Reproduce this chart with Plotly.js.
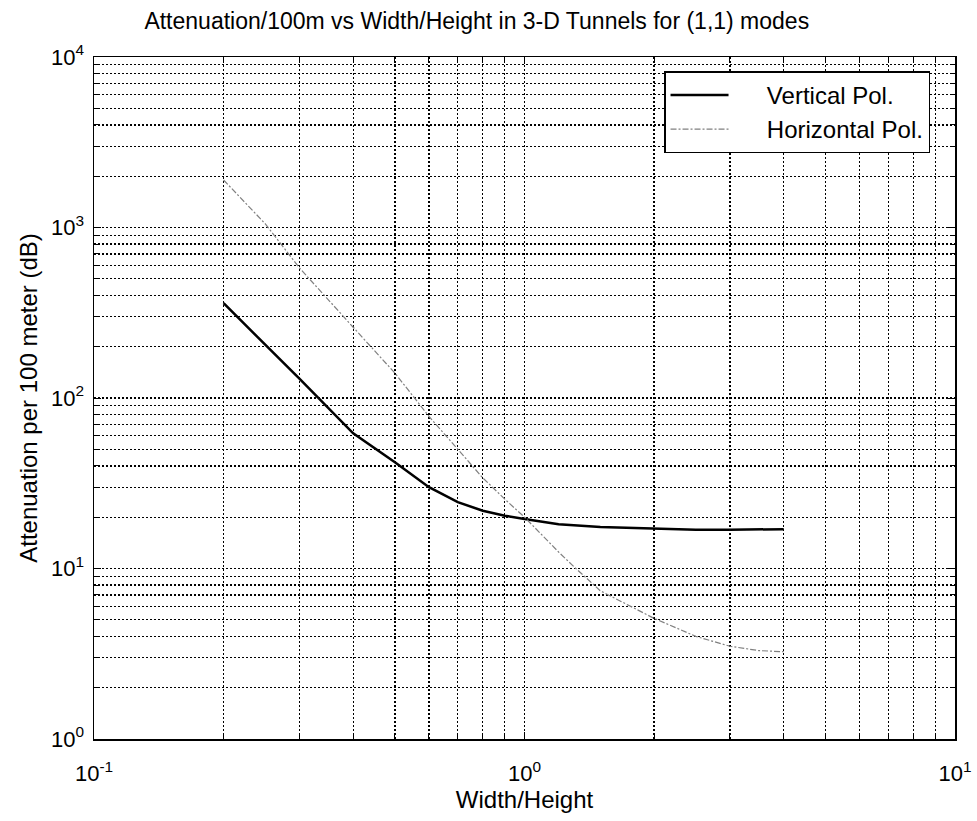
<!DOCTYPE html>
<html>
<head>
<meta charset="utf-8">
<script src="https://cdn.plot.ly/plotly-3.0.1.min.js"></script>
<style>html,body{margin:0;padding:0;background:#fff;}#chart{width:977px;height:821px;}</style>
</head>
<body>
<div id="chart"></div>
<script>
// Width/Height ratios and attenuation (dB per 100 m)
const ratioVertical = [0.2, 0.3, 0.4, 0.5, 0.6, 0.7, 0.8, 0.9, 1.0, 1.2, 1.5, 2.0, 2.5, 3.0, 4.0];
const attVertical   = [360, 130, 62, 42, 30, 24.5, 21.8, 20.4, 19.5, 18.2, 17.5, 17.2, 16.9, 16.9, 17.0];

const ratioHorizontal = [0.2, 0.25, 0.3, 0.35, 0.4, 0.5, 0.6, 0.7, 0.8, 0.9, 1.0, 1.2, 1.3, 1.5, 2.0, 2.5, 3.0, 3.5, 4.0];
const attHorizontal   = [1900, 1050, 580, 380, 260, 140, 78, 50, 34, 25.5, 20, 12.5, 10.3, 7.4, 5.1, 4.0, 3.5, 3.3, 3.25];

const seriesNames = ['Vertical Pol.', 'Horizontal Pol.'];

const xTickVals = [0.1, 1, 10];
const xTickText = ['10<sup>-1</sup>', '10<sup>0</sup>', '10<sup>1</sup>'];
const yTickVals = [1, 10, 100, 1000, 10000];
const yTickText = ['10<sup>0</sup>', '10<sup>1</sup>', '10<sup>2</sup>', '10<sup>3</sup>', '10<sup>4</sup>'];

const titleText = 'Attenuation/100m vs Width/Height in 3-D Tunnels for (1,1) modes';
const xTitle = 'Width/Height';
const yTitle = 'Attenuation per 100 meter (dB)';

function minorVals(lo, hi) {
  const out = [];
  for (let e = lo; e < hi; e++) for (let d = 2; d <= 9; d++) out.push(d * Math.pow(10, e));
  return out;
}

const FONT = '"Liberation Sans", Arial, Helvetica, sans-serif';
const gridDash = '2px,2px';
const PAD = '\u00a0\u00a0\u00a0\u00a0\u00a0';

const traces = [
  {x: ratioVertical, y: attVertical, name: PAD + seriesNames[0], type: 'scatter', mode: 'lines',
   line: {color: '#000', width: 2.5}},
  {x: ratioHorizontal, y: attHorizontal, name: PAD + seriesNames[1], type: 'scatter', mode: 'lines',
   line: {color: '#808080', width: 1.2, dash: '6px,2px,2px,2px'}}
];

const axisCommon = {
  type: 'log', showline: true, linecolor: '#000', linewidth: 1.5, mirror: 'allticks',
  ticks: 'inside', ticklen: 7, tickcolor: '#000', tickwidth: 1,
  showgrid: true, gridcolor: '#000', gridwidth: 1.3, griddash: gridDash, zeroline: false,
  tickmode: 'array', tickfont: {family: FONT, size: 22, color: '#000'}
};

const layout = {
  width: 977, height: 821,
  paper_bgcolor: '#fff', plot_bgcolor: '#fff',
  margin: {l: 94, r: 22, t: 57, b: 82},
  title: {text: titleText, font: {family: FONT, size: 23, color: '#000'},
          x: 0.488, xanchor: 'center', y: 0.974, yanchor: 'middle'},
  xaxis: Object.assign({}, axisCommon, {
    range: [-1, 1], tickvals: xTickVals, ticktext: xTickText, ticklabelstandoff: 14,
    title: {text: xTitle, font: {family: FONT, size: 24, color: '#000'}, standoff: 4},
    minor: {tickmode: 'array', tickvals: minorVals(-1, 1), ticks: 'inside', ticklen: 5, tickcolor: '#000',
            showgrid: true, gridcolor: '#000', gridwidth: 1.3, griddash: gridDash}
  }),
  yaxis: Object.assign({}, axisCommon, {
    range: [0, 4], tickvals: yTickVals, ticktext: yTickText, ticklabelstandoff: 4,
    title: {text: yTitle, font: {family: FONT, size: 24, color: '#000'}, standoff: 6},
    minor: {tickmode: 'array', tickvals: minorVals(0, 4), ticks: 'inside', ticklen: 5, tickcolor: '#000',
            showgrid: true, gridcolor: '#000', gridwidth: 1.3, griddash: gridDash}
  }),
  legend: {x: 0.971, xanchor: 'right', y: 0.979, yanchor: 'top',
           bgcolor: '#fff', bordercolor: '#000', borderwidth: 1.5,
           font: {family: FONT, size: 24, color: '#000'}, itemwidth: 58, tracegroupgap: 0},
  showlegend: true
};

Plotly.newPlot('chart', traces, layout, {displayModeBar: false, staticPlot: true});
</script>
</body>
</html>
